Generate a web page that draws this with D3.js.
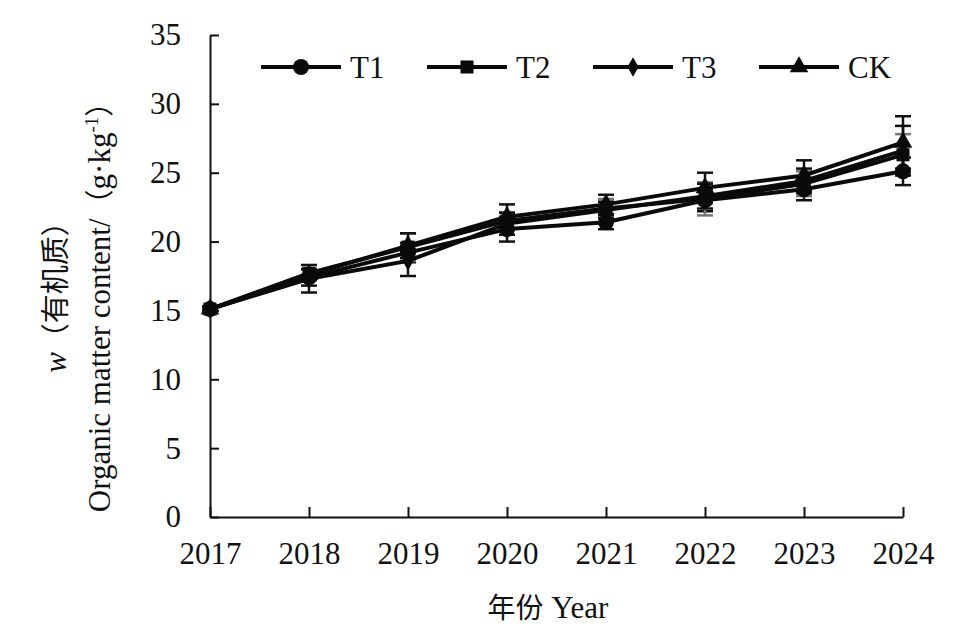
<!DOCTYPE html>
<html>
<head>
<meta charset="utf-8">
<script src="https://cdn.jsdelivr.net/npm/d3@7"></script>
<style>
  body { margin: 0; background: #fff; }
  text, tspan { font-family: "Liberation Serif", "Times New Roman", serif; }
  .cjk { font-family: "Noto Sans CJK SC", sans-serif; }
</style>
</head>
<body>
<svg id="chart" width="962" height="641"></svg>
<script>
// years on the x axis
const years = [2017, 2018, 2019, 2020, 2021, 2022, 2023, 2024];
const yTicks = [0, 5, 10, 15, 20, 25, 30, 35];

// organic matter content, g/kg
const t1 = [15.1, 17.4, 19.2, 20.9, 21.4, 23.0, 23.8, 25.1];
const t2 = [15.1, 17.7, 19.6, 21.5, 22.4, 23.1, 24.2, 26.3];
const t3 = [15.1, 17.3, 18.6, 21.3, 22.3, 23.3, 24.4, 26.6];
const ck = [15.1, 17.6, 19.7, 21.8, 22.7, 23.9, 24.8, 27.2];

// error bar half-widths
const t1Err = [0.2, 0.6, 0.7, 0.9, 0.5, 0.8, 0.8, 1.0];
const t2Err = [0.2, 0.3, 1.0, 0.6, 0.7, 1.2, 0.9, 1.5];
const t3Err = [0.2, 1.0, 1.1, 0.8, 0.6, 0.9, 0.9, 1.8];
const ckErr = [0.2, 0.4, 0.9, 0.9, 0.7, 1.1, 1.1, 1.9];

const seriesNames = ["T1", "T2", "T3", "CK"];
const symbols = [d3.symbolCircle, d3.symbolSquare, d3.symbolDiamond, d3.symbolTriangle];
const symbolSizes = [200, 170, 110, 150];
const errColors = ["#111", "#777", "#111", "#111"];

const series = [t1, t2, t3, ck].map((vals, i) => ({
  name: seriesNames[i],
  values: vals,
  err: [t1Err, t2Err, t3Err, ckErr][i],
  symbol: symbols[i],
  size: symbolSizes[i],
  errColor: errColors[i]
}));

const svg = d3.select("#chart");
const x = d3.scaleLinear().domain([2017, 2024]).range([210, 903]);
const y = d3.scaleLinear().domain([0, 35]).range([517, 35]);

// axes, ticks pointing inward
const xAxis = svg.append("g")
  .attr("transform", "translate(0,517)")
  .call(d3.axisBottom(x).tickValues(years).tickFormat(d3.format("d"))
    .tickSizeInner(-10).tickSizeOuter(0).tickPadding(25));
const yAxis = svg.append("g")
  .attr("transform", "translate(210,0)")
  .call(d3.axisLeft(y).tickValues(yTicks)
    .tickSizeInner(-9).tickSizeOuter(0).tickPadding(29));

[xAxis, yAxis].forEach(a => {
  a.attr("font-family", null).attr("font-size", null);
  a.selectAll("path, line").attr("stroke", "#111").attr("stroke-width", 2);
  a.selectAll("text").style("font-size", "31px").attr("fill", "#111");
});

// error bars
const errG = svg.append("g");
series.forEach(s => {
  s.values.forEach((v, i) => {
    const cx = x(years[i]);
    const lo = y(v - s.err[i]), hi = y(v + s.err[i]);
    const g = errG.append("g").attr("stroke", s.errColor).attr("stroke-width", 2.5);
    g.append("line").attr("x1", cx).attr("x2", cx).attr("y1", lo).attr("y2", hi);
    g.append("line").attr("x1", cx - 8).attr("x2", cx + 8).attr("y1", lo).attr("y2", lo);
    g.append("line").attr("x1", cx - 8).attr("x2", cx + 8).attr("y1", hi).attr("y2", hi);
  });
});

// lines
const line = d3.line().x((d, i) => x(years[i])).y(d => y(d));
series.forEach(s => {
  svg.append("path")
    .attr("d", line(s.values))
    .attr("fill", "none")
    .attr("stroke", "#0a0a0a")
    .attr("stroke-width", 4);
});

// markers
series.forEach(s => {
  svg.append("g").selectAll("path")
    .data(s.values).enter().append("path")
    .attr("transform", (d, i) => `translate(${x(years[i])},${y(d)})`)
    .attr("d", d3.symbol().type(s.symbol).size(s.size))
    .attr("fill", "#0a0a0a");
});

// legend
const legendX = [261, 427, 593, 759];
const legend = svg.append("g");
series.forEach((s, i) => {
  const lx = legendX[i];
  legend.append("line")
    .attr("x1", lx).attr("x2", lx + 80).attr("y1", 67).attr("y2", 67)
    .attr("stroke", "#0a0a0a").attr("stroke-width", 4);
  legend.append("path")
    .attr("transform", `translate(${lx + 40},67)`)
    .attr("d", d3.symbol().type(s.symbol).size(s.size))
    .attr("fill", "#0a0a0a");
  legend.append("text")
    .attr("x", lx + 89).attr("y", 78)
    .style("font-size", "31px").attr("fill", "#111")
    .text(s.name);
});

// y axis title, two rotated lines
const yTitle1 = svg.append("text")
  .attr("transform", "translate(66,290) rotate(-90)")
  .attr("text-anchor", "middle")
  .style("font-size", "31px").attr("fill", "#111");
yTitle1.append("tspan").style("font-style", "italic").text("w");
yTitle1.append("tspan").attr("class", "cjk").style("font-size", "29px").text("（有机质）");

const yTitle2 = svg.append("text")
  .attr("transform", "translate(110,300) rotate(-90)")
  .attr("text-anchor", "middle")
  .style("font-size", "31px").attr("fill", "#111");
yTitle2.append("tspan").text("Organic matter content/");
yTitle2.append("tspan").attr("class", "cjk").style("font-size", "29px").text("（");
yTitle2.append("tspan").text("g·kg");
yTitle2.append("tspan").style("font-size", "19px").attr("dy", -12).text("-1");
yTitle2.append("tspan").attr("class", "cjk").style("font-size", "29px").attr("dy", 12).text("）");

// x axis title
const xTitle = svg.append("text")
  .attr("x", 548).attr("y", 618)
  .attr("text-anchor", "middle")
  .style("font-size", "31px").attr("fill", "#111");
xTitle.append("tspan").attr("class", "cjk").style("font-size", "28px").text("年份");
xTitle.append("tspan").text(" Year");
</script>
</body>
</html>
